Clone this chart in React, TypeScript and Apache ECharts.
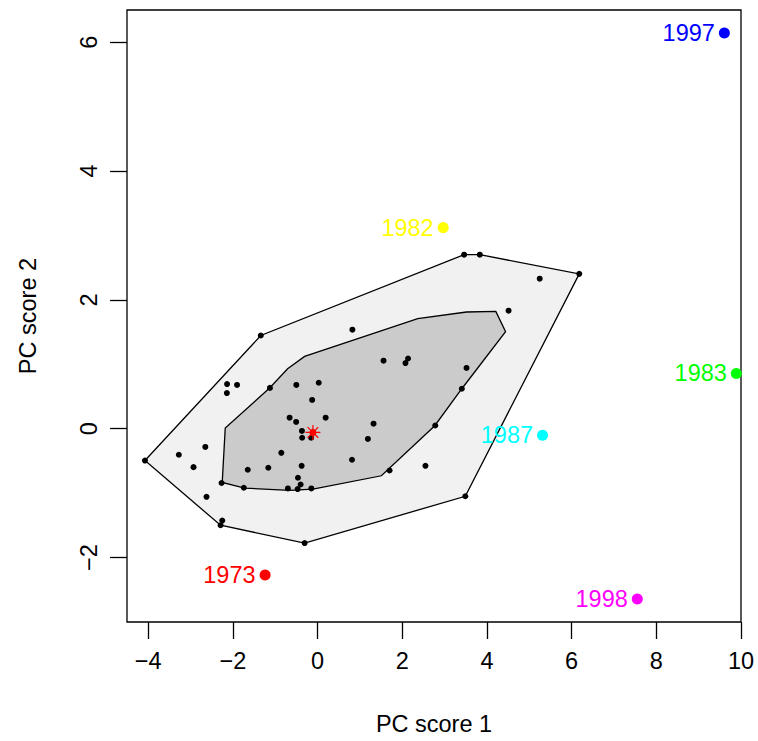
import { useEffect, useRef } from "react";
import * as echarts from "echarts";

// Axis ticks
const xTicks = [-4, -2, 0, 2, 4, 6, 8, 10];
const yTicks = [-2, 0, 2, 4, 6];

// Principal component scores of the regular years
const scoreX = [
  -4.076, -1.34, 3.461, 3.832, 6.18, 3.489, -0.305, -2.291, -2.251, -2.622,
  -2.929, -3.277, -2.65, -2.137, -1.901, -2.142, -1.125, -0.501, 0.028, -0.128,
  -0.66, -0.506, 0.191, -0.369, -0.364, -0.151, -0.856, -1.648, -1.163, -2.267,
  -1.742, -0.7, -0.463, -0.4, -0.47, -0.147, -0.376, 0.813, 1.189, 1.322,
  1.7, 2.548, 2.78, 3.407, 3.518, 4.511, 5.246, 0.823, 1.558, 2.137, 2.076,
];
const scoreY = [
  -0.494, 1.447, 2.702, 2.702, 2.404, -1.048, -1.775, -1.498, -1.425, -1.057,
  -0.596, -0.404, -0.283, 0.694, 0.68, 0.554, 0.634, 0.68, 0.714, 0.447,
  0.171, 0.106, 0.171, -0.034, -0.14, -0.14, -0.374, -0.637, -0.606, -0.842,
  -0.916, -0.927, -0.761, -0.866, -0.936, -0.927, -0.576, -0.481, -0.158, 0.078,
  -0.648, -0.576, 0.05, 0.621, 0.944, 1.832, 2.329, 1.537, 1.056, 1.09, 1.02,
];

// Loop (fence) polygon
const loopX = [-4.076, -1.34, 3.461, 3.832, 6.18, 3.489, -0.305, -2.291];
const loopY = [-0.494, 1.447, 2.702, 2.702, 2.404, -1.048, -1.775, -1.498];

// Bag polygon
const bagX = [
  -2.18, -2.251, -1.723, -0.66, -0.109, 1.508, 2.768, 3.407, 4.44, 4.21,
  3.518, 2.366, -0.305, -0.707, -1.132,
];
const bagY = [
  0.011, -0.834, -0.921, -0.958, -0.936, -0.73, 0.047, 0.621, 1.506, 1.821,
  1.812, 1.708, 1.123, 0.932, 0.632,
];

// Depth median
const centerX = -0.109;
const centerY = -0.057;

// Outlying years
const outlierYears = ["1973", "1982", "1983", "1987", "1997", "1998"];
const outlierX = [-1.239, 2.967, 9.89, 5.313, 9.607, 7.551];
const outlierY = [-2.271, 3.122, 0.859, -0.102, 6.144, -2.643];
const outlierColors = ["#ff0000", "#ffff00", "#00ff00", "#00ffff", "#0000ff", "#ff00ff"];

const FONT = "'Liberation Sans', Arial, Helvetica, sans-serif";
const FS = 23.5;

const minusFmt = (v: number) => (v < 0 ? "\u2212" + Math.abs(v) : String(v));

function polygonSeries(xs: number[], ys: number[], fill: string, z: number) {
  return {
    type: "custom",
    coordinateSystem: "cartesian2d",
    silent: true,
    z,
    data: [[xs[0], ys[0]]],
    renderItem: (_params: any, api: any) => ({
      type: "polygon",
      shape: { points: xs.map((x, i) => api.coord([x, ys[i]])) },
      style: { fill, stroke: "#000", lineWidth: 1.3 },
    }),
  };
}

export default function App() {
  const ref = useRef<HTMLDivElement>(null);

  useEffect(() => {
    if (!ref.current) return;
    const chart = echarts.init(ref.current, undefined, { renderer: "svg" });
    chart.setOption({
      animation: false,
      backgroundColor: "#ffffff",
      textStyle: { fontFamily: FONT },
      grid: {
        left: 127,
        top: 10,
        width: 614,
        height: 613,
        show: true,
        borderColor: "#000",
        borderWidth: 1.3,
        backgroundColor: "transparent",
      },
      xAxis: {
        type: "value",
        min: -4.5,
        max: 10,
        name: "PC score 1",
        nameLocation: "middle",
        nameGap: 90,
        nameTextStyle: { fontSize: FS, color: "#000", fontFamily: FONT },
        axisLine: { show: false, onZero: false },
        splitLine: { show: false },
        axisTick: {
          show: true,
          length: 17,
          customValues: xTicks,
          lineStyle: { color: "#000", width: 1.3 },
        },
        axisLabel: {
          customValues: xTicks,
          formatter: minusFmt,
          fontSize: FS,
          color: "#000",
          fontFamily: FONT,
          margin: 27,
        },
      },
      yAxis: {
        type: "value",
        min: -3,
        max: 6.5,
        name: "PC score 2",
        nameLocation: "middle",
        nameGap: 87,
        nameRotate: 90,
        nameTextStyle: { fontSize: FS, color: "#000", fontFamily: FONT },
        axisLine: { show: false, onZero: false },
        splitLine: { show: false },
        axisTick: {
          show: true,
          length: 17,
          customValues: yTicks,
          lineStyle: { color: "#000", width: 1.3 },
        },
        axisLabel: {
          customValues: yTicks,
          formatter: minusFmt,
          rotate: 90,
          fontSize: FS,
          color: "#000",
          fontFamily: FONT,
          margin: 26,
        },
      },
      series: [
        polygonSeries(loopX, loopY, "#f1f1f1", 1),
        polygonSeries(bagX, bagY, "#cbcbcb", 2),
        {
          type: "scatter",
          z: 3,
          symbol: "circle",
          symbolSize: 6,
          itemStyle: { color: "#000", opacity: 1 },
          data: scoreX.map((x, i) => [x, scoreY[i]]),
          silent: true,
        },
        {
          type: "scatter",
          z: 4,
          symbol: "circle",
          symbolSize: 7,
          itemStyle: { color: "#ff0000", opacity: 1 },
          data: [[centerX, centerY]],
          silent: true,
        },
        {
          type: "scatter",
          z: 5,
          symbol:
            "path://M0,-1L0,1M-1,0L1,0M-0.707,-0.707L0.707,0.707M-0.707,0.707L0.707,-0.707",
          symbolSize: 15,
          itemStyle: { color: "none", borderColor: "#ff0000", borderWidth: 1.2, opacity: 1 },
          data: [[centerX, centerY]],
          silent: true,
        },
        {
          type: "scatter",
          z: 6,
          symbol: "circle",
          symbolSize: 11,
          data: outlierX.map((x, i) => ({
            value: [x, outlierY[i]],
            name: outlierYears[i],
            itemStyle: { color: outlierColors[i], opacity: 1 },
            label: {
              show: true,
              position: "left",
              distance: 4,
              formatter: outlierYears[i],
              color: outlierColors[i],
              fontSize: FS,
              fontFamily: FONT,
            },
          })),
          silent: true,
        },
      ],
    });
    return () => chart.dispose();
  }, []);

  return (
    <div
      ref={ref}
      style={{ position: "fixed", left: 0, top: 0, width: 758, height: 741 }}
    />
  );
}
